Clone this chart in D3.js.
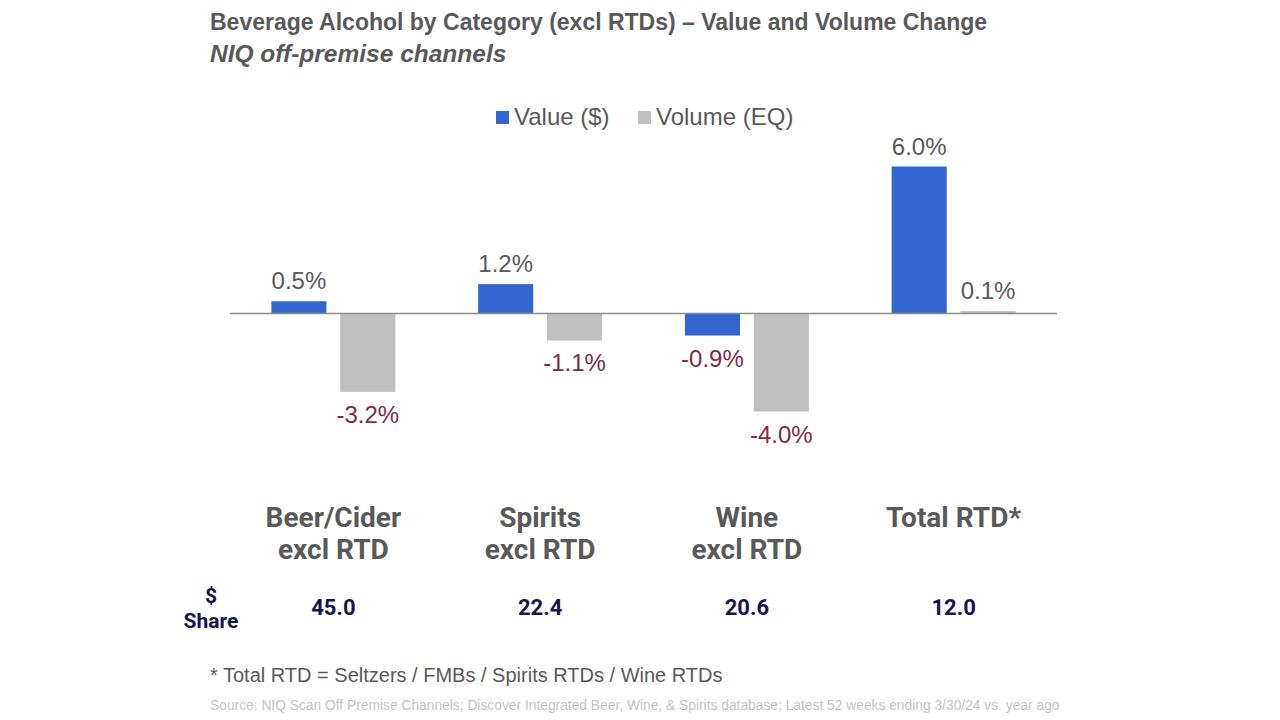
<!DOCTYPE html>
<html>
<head>
<meta charset="utf-8">
<script src="https://cdn.jsdelivr.net/npm/d3@7"></script>
<style>
  body { margin: 0; background: #fff; }
  svg { display: block; }
</style>
</head>
<body>
<div id="chart"></div>
<script>
// categories and values (percent change vs year ago)
var categories = ['Beer/Cider|excl RTD', 'Spirits|excl RTD', 'Wine|excl RTD', 'Total RTD*'];
var valueChange = [0.5, 1.2, -0.9, 6.0];
var volumeChange = [-3.2, -1.1, -4.0, 0.1];
var dollarShare = ['45.0', '22.4', '20.6', '12.0'];
var seriesNames = ['Value ($)', 'Volume (EQ)'];

var W = 1280, H = 720;
var plain = '"Liberation Sans", Arial, sans-serif';
var bold = 'Roboto, "Open Sans", sans-serif';

var svg = d3.select('#chart').append('svg')
  .attr('width', W).attr('height', H);

// titles
svg.append('text').attr('x', 210).attr('y', 30)
  .style('font-family', plain).style('font-weight', 'bold').style('font-size', '23px')
  .attr('fill', '#595959')
  .text('Beverage Alcohol by Category (excl RTDs) \u2013 Value and Volume Change');
svg.append('text').attr('x', 210).attr('y', 62)
  .style('font-family', plain).style('font-weight', 'bold').style('font-style', 'italic').style('font-size', '24.5px')
  .attr('fill', '#595959')
  .text('NIQ off-premise channels');

// scales
var x0 = d3.scaleBand().domain(d3.range(categories.length)).range([230, 1057]);
var x1 = d3.scaleBand().domain([0, 1]).range([0, 124]).paddingInner(0.2);
var y = d3.scaleLinear().domain([-4, 6]).range([411.5, 166.5]);
var colors = ['#3366d1', '#bfbfbf'];

var rows = categories.map(function(c, i) {
  return { i: i, vals: [valueChange[i], volumeChange[i]] };
});

var groups = svg.selectAll('g.grp').data(rows).enter().append('g')
  .attr('class', 'grp')
  .attr('transform', function(d) {
    return 'translate(' + (x0(d.i) + x0.bandwidth() / 2 - 62) + ',0)';
  });

groups.selectAll('rect').data(function(d) { return d.vals; }).enter().append('rect')
  .attr('x', function(v, k) { return x1(k); })
  .attr('width', x1.bandwidth())
  .attr('y', function(v) { return y(Math.max(0, v)); })
  .attr('height', function(v) { return Math.abs(y(v) - y(0)); })
  .attr('fill', function(v, k) { return colors[k]; });

groups.selectAll('text.lbl').data(function(d) { return d.vals; }).enter().append('text')
  .attr('class', 'lbl')
  .attr('x', function(v, k) { return x1(k) + x1.bandwidth() / 2; })
  .attr('y', function(v) { return v >= 0 ? y(v) - 12 : y(v) + 31; })
  .attr('text-anchor', 'middle')
  .style('font-family', plain).style('font-size', '24px')
  .attr('fill', function(v) { return v >= 0 ? '#595959' : '#7f2a4b'; })
  .text(function(v) { return v.toFixed(1) + '%'; });

// zero line
svg.append('line')
  .attr('x1', 230).attr('x2', 1057)
  .attr('y1', y(0)).attr('y2', y(0))
  .attr('stroke', '#8c8c8c').attr('stroke-width', 1.5);

// legend
var legend = svg.append('g');
var legX = [496, 638];
seriesNames.forEach(function(n, k) {
  legend.append('rect').attr('x', legX[k]).attr('y', 111).attr('width', 13).attr('height', 13)
    .attr('fill', colors[k]);
  legend.append('text').attr('x', legX[k] + 18).attr('y', 125)
    .style('font-family', plain).style('font-size', '24px')
    .attr('fill', '#595959').text(n);
});

// category labels
rows.forEach(function(d) {
  var cx = x0(d.i) + x0.bandwidth() / 2;
  var lines = categories[d.i].split('|');
  lines.forEach(function(l, j) {
    svg.append('text').attr('x', cx).attr('y', 527 + j * 32)
      .attr('text-anchor', 'middle')
      .style('font-family', bold).style('font-weight', 'bold').style('font-size', '28px')
      .attr('fill', '#595959').text(l);
  });
  svg.append('text').attr('x', cx).attr('y', 615)
    .attr('text-anchor', 'middle')
    .style('font-family', bold).style('font-weight', 'bold').style('font-size', '22px')
    .attr('fill', '#14144f').text(dollarShare[d.i]);
});

svg.append('text').attr('x', 211).attr('y', 603).attr('text-anchor', 'middle')
  .style('font-family', bold).style('font-weight', 'bold').style('font-size', '21px')
  .attr('fill', '#14144f').text('$');
svg.append('text').attr('x', 211).attr('y', 628).attr('text-anchor', 'middle')
  .style('font-family', bold).style('font-weight', 'bold').style('font-size', '21px')
  .attr('fill', '#14144f').text('Share');

// footnotes
svg.append('text').attr('x', 210).attr('y', 682)
  .style('font-family', plain).style('font-size', '20px')
  .attr('fill', '#595959').text('* Total RTD = Seltzers / FMBs / Spirits RTDs / Wine RTDs');
svg.append('text').attr('x', 210).attr('y', 710)
  .style('font-family', plain).style('font-size', '13.8px')
  .attr('fill', '#c4c4c4')
  .text('Source: NIQ Scan Off Premise Channels; Discover Integrated Beer, Wine, & Spirits database; Latest 52 weeks ending 3/30/24 vs. year ago');
</script>
</body>
</html>
